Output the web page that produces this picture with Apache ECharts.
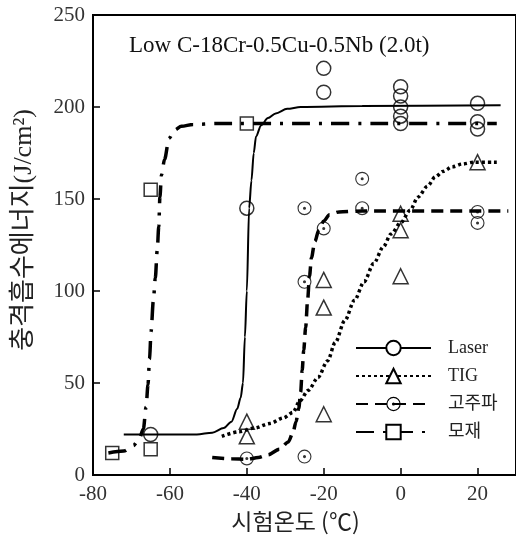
<!DOCTYPE html>
<html>
<head>
<meta charset="utf-8">
<script src="https://cdn.jsdelivr.net/npm/echarts@6/dist/echarts.min.js"></script>
<style>
  html, body { margin: 0; padding: 0; background: #fff; }
  #chart { width: 516px; height: 542px; }
</style>
</head>
<body>
<div id="chart"></div>
<script>
// measured points [temperature, energy]
const laserPoints = [[-65, 22], [-40, 145], [-20, 221], [-20, 208], [0, 211], [0, 206], [0, 200], [0, 195], [0, 191], [20, 202], [20, 192], [20, 188]]
const tigPoints = [[-40, 29], [-40, 21], [-20, 106], [-20, 91], [-20, 33], [0, 142], [0, 133], [0, 108], [20, 170]]
const hfPoints = [[-40, 9], [-25, 10], [-25, 105], [-25, 145], [-20, 134], [-10, 145], [-10, 161], [20, 143], [20, 137]]
const bmPoints = [[-75, 12], [-65, 14], [-65, 155], [-40, 191]]

// fitted curves
const laserCurve = [[-72, 22], [-60, 22], [-53, 22], [-49, 23], [-46, 25.5], [-44, 29], [-42.5, 36], [-41.6, 42], [-41, 50], [-40.5, 75], [-40, 100], [-39.4, 145], [-38.8, 160], [-38.2, 175], [-37.6, 184], [-36.3, 190], [-34.5, 194], [-32.5, 196.5], [-29.5, 199], [-26, 200], [-10, 200.5], [26, 201]]
const tigCurve = [[-46.5, 21], [-42, 23.5], [-38, 25.5], [-34, 28], [-30.5, 31], [-28, 34], [-26.3, 40], [-24, 46], [-21.5, 53], [-19, 62], [-17, 72], [-14.5, 84], [-12, 95], [-9.5, 105], [-7, 115], [-4.5, 124], [-2.5, 131], [0, 137], [2.5, 144], [4.5, 151], [7, 157], [9, 162], [11, 165], [13.5, 167.5], [16, 169], [19, 170], [25, 170]]
const hfCurve = [[-49, 9.5], [-44, 8.8], [-40, 8.5], [-37, 9.5], [-34.5, 11], [-31.5, 14], [-29.2, 18], [-28, 23], [-27.2, 29], [-26.5, 36], [-26, 45], [-25.6, 57], [-25.2, 68], [-24.7, 80], [-24.2, 95], [-23.7, 108], [-23.2, 118], [-22.3, 127], [-21.3, 133], [-20, 138], [-18.5, 141.5], [-16, 143], [-10, 143.5], [28, 143.5]]
const bmCurve = [[-76, 12], [-72, 13], [-69.5, 16], [-68, 19.5], [-66.9, 25], [-66.2, 37], [-65.7, 49], [-65.3, 63], [-64.9, 78], [-64.3, 95], [-63.8, 107], [-63.3, 122], [-62.9, 135], [-62.6, 151], [-62.2, 163], [-61.4, 171.5], [-60.2, 183], [-58.8, 187.5], [-57, 189.5], [-54, 190.5], [-48, 191], [25, 191]]

const seriesNames = ['Laser', 'TIG', '고주파', '모재']

const serif = '"Liberation Serif", "Noto Sans CJK KR", serif'
const dotCircle = 'path://M0,-10A10,10 0 1,1 0,10A10,10 0 1,1 0,-10ZM0,-8.4A8.4,8.4 0 1,0 0,8.4A8.4,8.4 0 1,0 0,-8.4ZM0,-2.2A2.2,2.2 0 1,1 0,2.2A2.2,2.2 0 1,1 0,-2.2Z'

function curve(name, data, symbol, lineStyle) {
  return {
    name: name,
    type: 'line',
    data: data,
    symbol: symbol,
    showSymbol: false,
    smooth: 0.3,
    smoothMonotone: 'x',
    lineStyle: Object.assign({ color: '#000' }, lineStyle),
    itemStyle: { color: '#000', borderWidth: 0 },
    z: 2
  }
}

function marks(name, data, symbol, size, filled) {
  return {
    name: name,
    type: 'scatter',
    data: data,
    symbol: symbol,
    symbolSize: size,
    itemStyle: filled
      ? { color: '#000' }
      : { color: 'rgba(0,0,0,0)', borderColor: '#000', borderWidth: 1.5 },
    z: 3
  }
}

const chart = echarts.init(document.getElementById('chart'))
chart.setOption({
  animation: false,
  title: {
    text: 'Low C-18Cr-0.5Cu-0.5Nb (2.0t)',
    left: 124,
    top: 29,
    textStyle: { fontFamily: serif, fontSize: 23, fontWeight: 'normal', color: '#111' }
  },
  grid: {
    left: 93,
    top: 15,
    width: 427,
    height: 460,
    show: true,
    borderColor: '#000',
    borderWidth: 2
  },
  legend: {
    data: seriesNames,
    orient: 'vertical',
    left: 350,
    top: 333,
    itemWidth: 75,
    itemHeight: 18,
    itemGap: 8,
    textStyle: { fontFamily: serif, fontSize: 18, color: '#222', lineHeight: 20, padding: [0, 0, 0, 12] }
  },
  xAxis: {
    type: 'value',
    min: -80,
    max: 30,
    interval: 20,
    name: '시험온도 (℃)',
    nameLocation: 'middle',
    nameGap: 34,
    nameTextStyle: { fontFamily: '"Noto Sans CJK KR", sans-serif', fontSize: 23, color: '#222', padding: [0, 18, 0, 0] },
    splitLine: { show: false },
    axisLine: { onZero: false, lineStyle: { color: '#000', width: 2 } },
    axisTick: { inside: true, length: 7, lineStyle: { color: '#000', width: 1.5 } },
    axisLabel: { showMaxLabel: false, margin: 9, fontFamily: serif, fontSize: 21, color: '#333' }
  },
  yAxis: {
    type: 'value',
    min: 0,
    max: 250,
    interval: 50,
    name: '충격흡수에너지(J/cm²)',
    nameLocation: 'middle',
    nameGap: 56,
    nameTextStyle: { fontFamily: serif, fontSize: 26, color: '#222', padding: [0, 0, 0, 30] },
    splitLine: { show: false },
    axisLine: { onZero: false, lineStyle: { color: '#000', width: 2 } },
    axisTick: { inside: true, length: 7, lineStyle: { color: '#000', width: 1.5 } },
    axisLabel: { margin: 8, fontFamily: serif, fontSize: 21, color: '#333' }
  },
  series: [
    curve('Laser', laserCurve, 'emptyCircle', { width: 2, type: 'solid' }),
    curve('TIG', tigCurve, 'emptyTriangle', { width: 3.5, type: [3, 3] }),
    curve('고주파', hfCurve, dotCircle, { width: 3.5, type: [12, 7] }),
    curve('모재', bmCurve, 'emptyRect', { width: 3.5, type: [18, 9, 3, 9] }),
    marks('Laser', laserPoints, 'circle', 14, false),
    marks('TIG', tigPoints, 'triangle', 15, false),
    marks('고주파', hfPoints, dotCircle, 14, true),
    marks('모재', bmPoints, 'rect', 13, false)
  ]
})
</script>
</body>
</html>
